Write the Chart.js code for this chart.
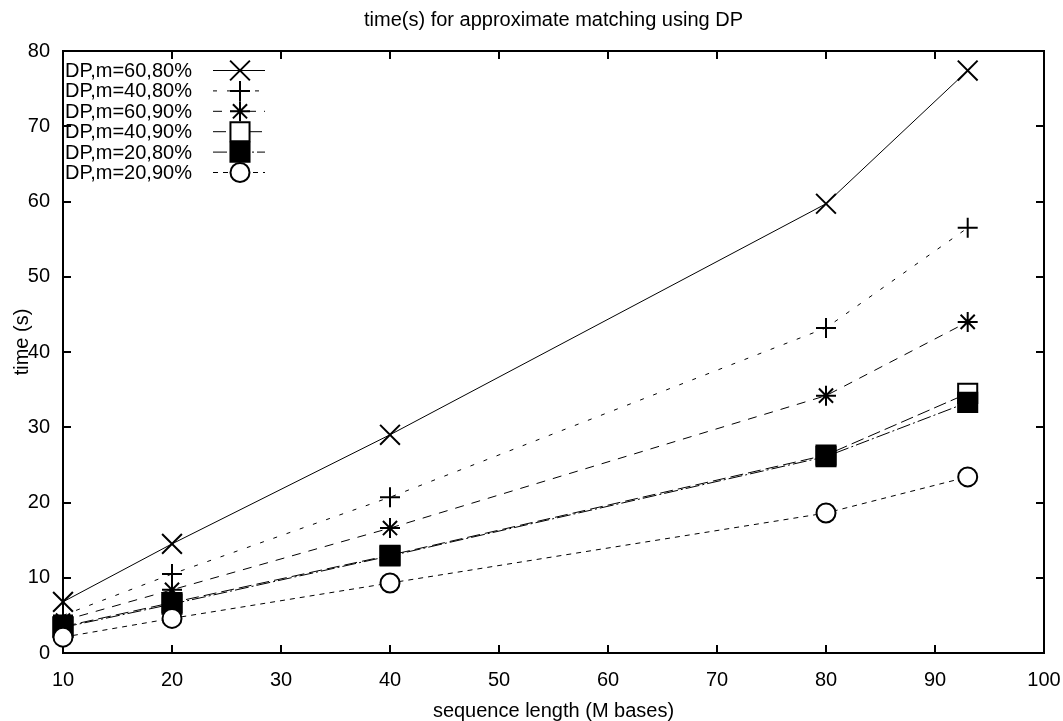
<!DOCTYPE html>
<html>
<head>
<meta charset="utf-8">
<script src="https://cdn.jsdelivr.net/npm/chart.js@4/dist/chart.umd.min.js"></script>
<style>
html,body{margin:0;padding:0;background:#fff;}
#wrap{width:1063px;height:721px;position:relative;}
</style>
</head>
<body>
<div id="wrap"><canvas id="c" width="1063" height="721"></canvas></div>
<script>
// ---- data ----
const xValues = [10, 20, 40, 80, 93];
const s60_80 = [6.8, 14.5, 29.0, 59.7, 77.4];
const s40_80 = [5.0, 10.5, 20.7, 43.2, 56.5];
const s60_90 = [4.3, 8.4, 16.6, 34.2, 44.0];
const s40_90 = [3.5, 6.7, 13.0, 26.3, 34.5];
const s20_80 = [3.4, 6.5, 12.9, 26.1, 33.3];
const s20_90 = [2.1, 4.6, 9.3, 18.6, 23.4];
const seriesLabels = ["DP,m=60,80%", "DP,m=40,80%", "DP,m=60,90%", "DP,m=40,90%", "DP,m=20,80%", "DP,m=20,90%"];
const xTicks = [10, 20, 30, 40, 50, 60, 70, 80, 90, 100];
const yTicks = [0, 10, 20, 30, 40, 50, 60, 70, 80];
const chartTitle = "time(s) for approximate matching using DP";
const xTitle = "sequence length (M bases)";
const yTitle = "time (s)";

const FONT = '20px "Liberation Sans", Arial, sans-serif';

const styles = [
  {pointStyle: 'crossRot', r: 14, dash: [], bg: '#000'},
  {pointStyle: 'cross', r: 10, dash: [4, 10], bg: '#000'},
  {pointStyle: 'star', r: 10, dash: [9, 8], bg: '#000'},
  {pointStyle: 'rect', r: 13.5, dash: [13, 5], bg: '#fff'},
  {pointStyle: 'rect', r: 13.5, dash: [14, 3, 2, 3], bg: '#000'},
  {pointStyle: 'circle', r: 9.5, dash: [5, 5], bg: '#fff'}
];
const allSeries = [s60_80, s40_80, s60_90, s40_90, s20_80, s20_90];

const datasets = allSeries.map((vals, i) => ({
  label: seriesLabels[i],
  data: xValues.map((x, j) => ({x: x, y: vals[j]})),
  borderColor: '#000',
  borderWidth: 1,
  borderDash: styles[i].dash,
  backgroundColor: styles[i].bg,
  pointStyle: styles[i].pointStyle,
  pointRadius: styles[i].r,
  pointHoverRadius: styles[i].r,
  pointBorderColor: '#000',
  pointBackgroundColor: styles[i].bg,
  pointBorderWidth: 2,
  fill: false,
  tension: 0,
  clip: false,
  order: 6 - i
}));

const framePlugin = {
  id: 'frame',
  beforeDatasetsDraw(chart) {
    const ctx = chart.ctx, a = chart.chartArea;
    const xs = chart.scales.x, ys = chart.scales.y;
    ctx.save();
    ctx.strokeStyle = '#000';
    ctx.lineWidth = 2;
    ctx.setLineDash([]);
    ctx.strokeRect(a.left, a.top, a.right - a.left, a.bottom - a.top);
    ctx.beginPath();
    const tl = 8;
    xTicks.forEach(v => {
      const px = Math.round(xs.getPixelForValue(v));
      ctx.moveTo(px, a.bottom); ctx.lineTo(px, a.bottom - tl);
      ctx.moveTo(px, a.top); ctx.lineTo(px, a.top + tl);
    });
    yTicks.forEach(v => {
      const py = Math.round(ys.getPixelForValue(v));
      ctx.moveTo(a.left, py); ctx.lineTo(a.left + tl, py);
      ctx.moveTo(a.right, py); ctx.lineTo(a.right - tl, py);
    });
    ctx.stroke();
    // tick labels
    ctx.fillStyle = '#000';
    ctx.font = FONT;
    ctx.textBaseline = 'middle';
    ctx.textAlign = 'right';
    yTicks.forEach(v => {
      ctx.fillText(String(v), a.left - 13, ys.getPixelForValue(v));
    });
    ctx.textAlign = 'center';
    xTicks.forEach(v => {
      ctx.fillText(String(v), xs.getPixelForValue(v), a.bottom + 27);
    });
    // titles
    const cx = (a.left + a.right) / 2;
    ctx.fillText(chartTitle, cx, 20);
    ctx.fillText(xTitle, cx, 711);
    ctx.save();
    ctx.translate(22, (a.top + a.bottom) / 2 - 10);
    ctx.rotate(-Math.PI / 2);
    ctx.fillText(yTitle, 0, 0);
    ctx.restore();
    ctx.restore();
  },
  afterDatasetsDraw(chart) {
    const ctx = chart.ctx, a = chart.chartArea;
    ctx.save();
    ctx.font = FONT;
    ctx.fillStyle = '#000';
    ctx.textAlign = 'left';
    ctx.textBaseline = 'middle';
    const y0 = a.top + 19.5, dy = 20.4;
    const lx0 = 213, lx1 = 265, mx = 240;
    datasets.forEach((ds, i) => {
      const y = y0 + i * dy;
      ctx.fillStyle = '#000';
      ctx.fillText(ds.label, a.left + 2, y + 1);
      ctx.strokeStyle = '#000';
      ctx.lineWidth = 1;
      ctx.setLineDash(ds.borderDash);
      ctx.beginPath();
      ctx.moveTo(lx0, y); ctx.lineTo(lx1, y);
      ctx.stroke();
      ctx.setLineDash([]);
      ctx.lineWidth = 2;
      ctx.fillStyle = ds.pointBackgroundColor;
      ctx.strokeStyle = '#000';
      Chart.helpers.drawPoint(ctx, {pointStyle: ds.pointStyle, radius: ds.pointRadius, rotation: 0, borderWidth: 2}, mx, y);
    });
    ctx.restore();
  }
};

new Chart(document.getElementById('c'), {
  type: 'line',
  data: {datasets: datasets},
  options: {
    responsive: false,
    animation: false,
    devicePixelRatio: 1,
    layout: {padding: {left: 63, top: 51, right: 19, bottom: 68}},
    scales: {
      x: {type: 'linear', min: 10, max: 100, display: false},
      y: {type: 'linear', min: 0, max: 80, display: false}
    },
    plugins: {
      legend: {display: false},
      title: {display: false},
      tooltip: {enabled: false}
    }
  },
  plugins: [framePlugin]
});
</script>
</body>
</html>
